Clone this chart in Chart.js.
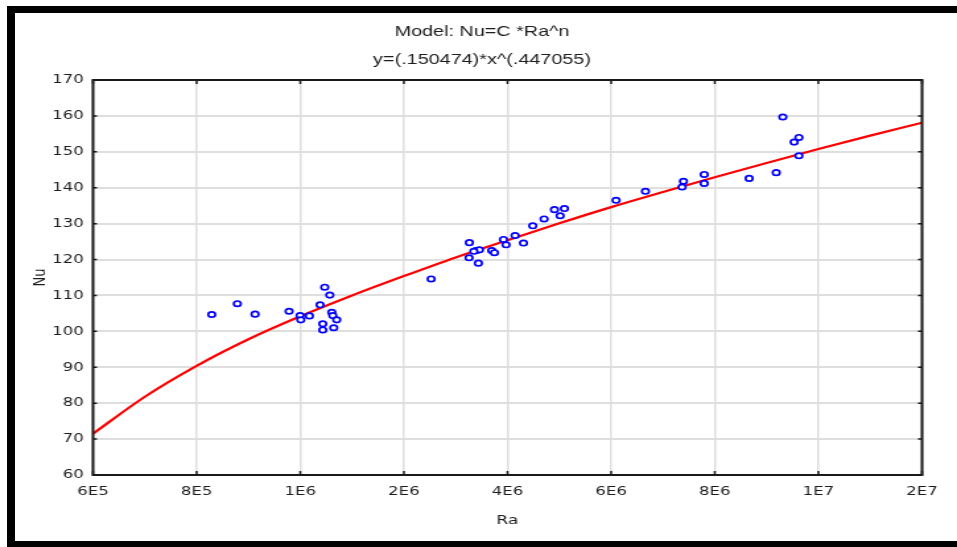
<!DOCTYPE html>
<html>
<head>
<meta charset="utf-8">
<script src="https://cdn.jsdelivr.net/npm/chart.js@4/dist/chart.umd.min.js"></script>
<style>
  html, body { margin: 0; padding: 0; background: #fff; overflow: hidden; }
  #wrap { position: relative; width: 957px; height: 547px; overflow: hidden; }
  #plot { position: absolute; left: 0; top: 0; transform-origin: 0 0; }
  #frame {
    position: absolute; left: 7px; top: 6px; width: 980px; bottom: 0;
    border-top: 7px solid #000; border-left: 8px solid #000; border-bottom: 6px solid #000;
    box-sizing: border-box; pointer-events: none;
  }
</style>
</head>
<body>
<div id="wrap">
  <canvas id="plot"></canvas>
  <div id="frame"></div>
</div>
<script>
// x axis: tick slots 0..8, each slot labelled with its Ra value
const raLabels = ['6E5', '8E5', '1E6', '2E6', '4E6', '6E6', '8E6', '1E7', '2E7'];

// measured Nu vs Ra (x in tick slots)
const samplePos = [1.146, 1.393, 1.564, 1.892, 1.998, 2.005, 2.088, 2.191, 2.236, 2.285, 2.304, 2.314,
  2.352, 2.217, 2.217, 2.323, 3.263, 3.632, 3.629, 3.719, 3.697, 3.729, 3.675, 3.848, 3.874, 3.961,
  3.986, 4.073, 4.154, 4.244, 4.353, 4.453, 4.508, 4.549, 5.048, 5.331, 5.698, 5.685, 5.898, 5.898,
  6.332, 6.593, 6.657, 6.766, 6.812, 6.812];
const sampleNu = [104.7, 107.7, 104.8, 105.6, 104.4, 103.2, 104.3, 107.4, 112.3, 110.1, 105.3, 104.4,
  103.2, 102.1, 100.4, 101.0, 114.6, 124.7, 120.5, 119.0, 122.5, 122.7, 122.3, 122.5, 121.9, 125.6,
  124.1, 126.7, 124.6, 129.4, 131.3, 133.9, 132.2, 134.2, 136.5, 139.0, 141.8, 140.2, 143.7, 141.2,
  142.6, 144.2, 159.7, 152.7, 154.0, 148.9];

// fitted curve Nu = C*Ra^n
const fitPos = [0, 0.5, 1, 1.5, 2, 2.5, 3, 3.5, 4, 4.5, 5, 5.5, 6, 6.5, 7, 7.5, 8];
const fitNu = [71.5, 81.8, 90.4, 97.8, 104.2, 110.0, 115.4, 120.6, 125.4, 130.1, 134.6, 138.8, 142.9, 146.9, 150.8, 154.5, 158.1];

const titleLines = ['Model: Nu=C *Ra^n', 'y=(.150474)*x^(.447055)'];

// the whole plot is drawn narrow and stretched sideways
const SX = 1.32;
const W = Math.round(957 / SX), H = 547;
const canvas = document.getElementById('plot');
canvas.width = W; canvas.height = H;
canvas.style.transform = 'scaleX(' + SX + ')';

const tickFont = { family: 'DejaVu Sans', size: 12.5 };
const ink = '#1e1e1e';

const boxPlugin = {
  id: 'box',
  afterDraw(chart) {
    const { ctx, chartArea: a, scales: { x, y } } = chart;
    ctx.save();
    ctx.strokeStyle = '#1a1a1a';
    ctx.lineWidth = 1.5;
    ctx.beginPath();
    x.ticks.forEach(t => {
      const px = x.getPixelForValue(t.value);
      ctx.moveTo(px, a.bottom); ctx.lineTo(px, a.bottom - 4);
      ctx.moveTo(px, a.top); ctx.lineTo(px, a.top + 4);
    });
    y.ticks.forEach(t => {
      const py = y.getPixelForValue(t.value);
      ctx.moveTo(a.left, py); ctx.lineTo(a.left + 3, py);
      ctx.moveTo(a.right, py); ctx.lineTo(a.right - 3, py);
    });
    ctx.stroke();
    ctx.lineWidth = 2;
    ctx.strokeRect(a.left, a.top, a.right - a.left, a.bottom - a.top);

    ctx.fillStyle = ink;
    ctx.font = '15px "Liberation Sans", Arial, sans-serif';
    ctx.textAlign = 'center';
    ctx.textBaseline = 'middle';
    const cx = 482 / SX;
    ctx.fillText(titleLines[0], cx, 32);
    ctx.fillText(titleLines[1], cx, 60);
    ctx.restore();
  }
};

new Chart(canvas, {
  type: 'scatter',
  data: {
    datasets: [
      {
        label: 'Nu',
        data: samplePos.map((p, i) => ({ x: p, y: sampleNu[i] })),
        pointStyle: 'circle',
        pointRadius: 2.7,
        pointBorderWidth: 1.7,
        pointBorderColor: '#0000ff',
        pointBackgroundColor: '#ffffff',
        showLine: false,
        order: 1
      },
      {
        label: 'fit',
        data: fitPos.map((p, i) => ({ x: p, y: fitNu[i] })),
        showLine: true,
        borderColor: '#ff0000',
        borderWidth: 2.2,
        pointRadius: 0,
        cubicInterpolationMode: 'monotone',
        order: 2
      }
    ]
  },
  options: {
    responsive: false,
    animation: false,
    layout: { padding: { top: 80, left: 0, right: W - 922 / SX, bottom: 0 } },
    plugins: { legend: { display: false }, tooltip: { enabled: false }, title: { display: false } },
    scales: {
      x: {
        type: 'linear',
        min: 0, max: 8,
        afterFit: s => { s.height = 72; },
        grid: { color: '#dedede', lineWidth: 1.5, drawTicks: false },
        border: { display: false },
        ticks: {
          stepSize: 1, padding: 9, color: ink, font: tickFont, maxRotation: 0,
          callback: v => raLabels[v]
        },
        title: { display: true, text: 'Ra', color: ink, font: { family: 'DejaVu Sans', size: 13 }, padding: { top: 0, bottom: 19 } }
      },
      y: {
        min: 60, max: 170,
        afterFit: s => { s.width = 93 / SX; },
        grid: { color: '#dedede', lineWidth: 2, drawTicks: false },
        border: { display: false },
        ticks: { stepSize: 10, padding: 7, color: ink, font: tickFont },
        title: { display: true, text: 'Nu', color: ink, font: { family: 'DejaVu Sans', size: 13 }, padding: { top: 23, bottom: 0 } }
      }
    }
  },
  plugins: [boxPlugin]
});
</script>
</body>
</html>
